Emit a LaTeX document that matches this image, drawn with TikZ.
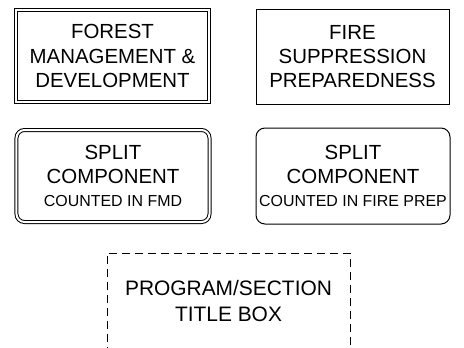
\documentclass[tikz,border=0pt]{standalone}
\usepackage{fontspec}
\setmainfont{Liberation Sans}
\begin{document}
\begin{tikzpicture}[x=1bp,y=-1bp,
  lbl/.style={align=center,inner sep=0pt,outer sep=0pt,line width=1bp,
    font=\fontsize{20.5}{24.5}\selectfont},
  dbl/.style={lbl,draw,double,double distance=2bp},
  sgl/.style={lbl,draw},
  dsh/.style={lbl,draw,dash pattern=on 8bp off 5bp,font=\fontsize{21}{26.5}\selectfont}]
\useasboundingbox (0,0) rectangle (464,347);
\node[dbl,minimum width=193bp,minimum height=92bp] (fmd) at (112.5,56)
  {FOREST\\MANAGEMENT \&\\DEVELOPMENT};
\node[sgl,minimum width=193bp,minimum height=95bp] (fire) at (352.5,56.5)
  {FIRE\\SUPPRESSION\\PREPAREDNESS};
\node[dbl,rounded corners=8bp,minimum width=193bp,minimum height=92bp] (splitfmd) at (113,176)
  {SPLIT\\COMPONENT\\[-1bp]{\fontsize{16}{19}\selectfont COUNTED IN FMD}};
\node[sgl,rounded corners=9bp,minimum width=194bp,minimum height=96bp] (splitfire) at (353,176)
  {SPLIT\\COMPONENT\\[-1bp]{\fontsize{16}{19}\selectfont COUNTED IN FIRE PREP}};
\node[dsh,minimum width=243bp,minimum height=96bp] (title) at (228.5,301)
  {PROGRAM/SECTION\\TITLE BOX};
\end{tikzpicture}
\end{document}
